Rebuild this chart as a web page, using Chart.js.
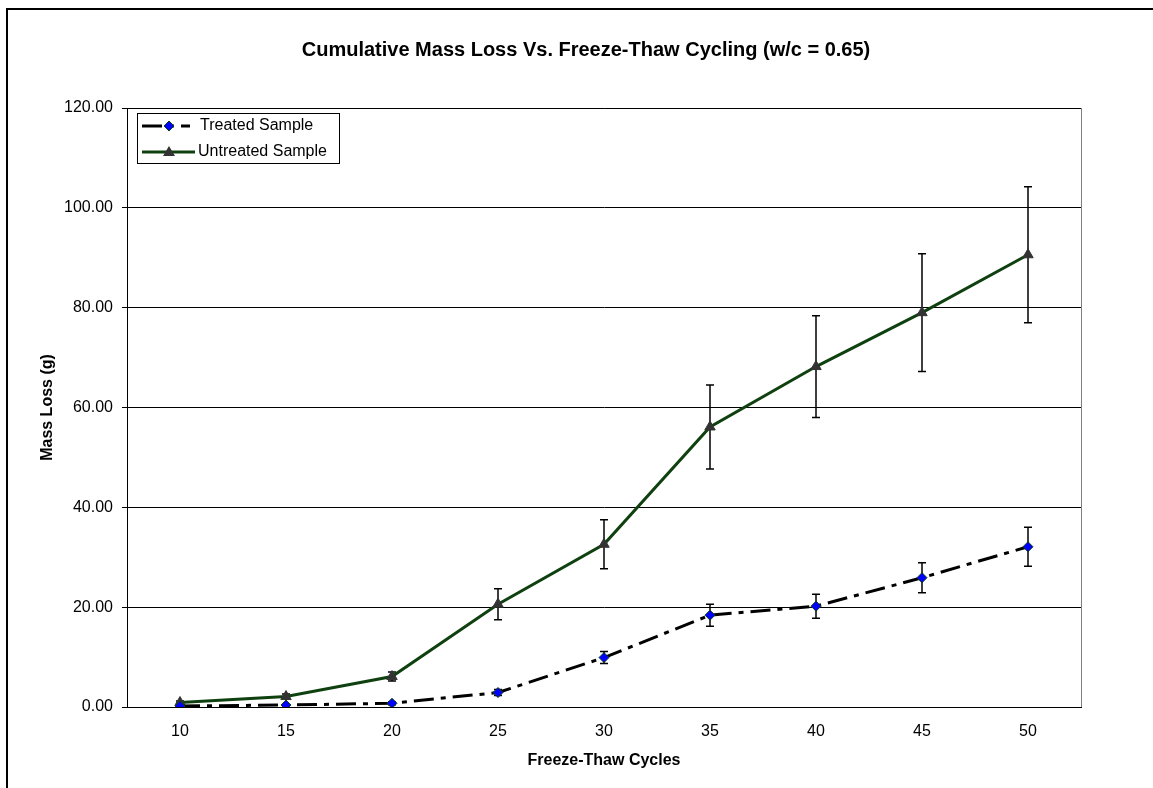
<!DOCTYPE html>
<html>
<head>
<meta charset="utf-8">
<script src="https://cdn.jsdelivr.net/npm/chart.js@4/dist/chart.umd.min.js"></script>
<style>
  html, body { margin: 0; padding: 0; background: #fff; }
  canvas { display: block; }
</style>
</head>
<body>
<canvas id="grafico" width="1153" height="788"></canvas>
<script>
// datos
const ciclos = ["10", "15", "20", "25", "30", "35", "40", "45", "50"];
const tratada = [0.2, 0.4, 0.75, 2.9, 9.9, 18.4, 20.2, 25.9, 32.1];
const tratadaErr = [0.1, 0.2, 0.3, 0.6, 1.2, 2.2, 2.4, 3.0, 3.9];
const sinTratar = [0.9, 2.1, 6.1, 20.6, 32.6, 56.1, 68.2, 79.0, 90.6];
const sinTratarErr = [0.3, 0.5, 0.9, 3.1, 4.9, 8.4, 10.2, 11.8, 13.6];
const etiquetas = ["Treated Sample", "Untreated Sample"];
const titulo = "Cumulative Mass Loss Vs. Freeze-Thaw Cycling (w/c = 0.65)";

const fuente = "'Liberation Sans', Arial, sans-serif";
const verde = "#0f400f";
const guion = [20, 7, 5, 7];

// fondo, marco exterior, marco del área y título
// (el marco original sigue más allá del borde derecho, por eso el título va en x≈586)
const marcos = {
  id: "marcos",
  beforeDraw(chart) {
    const ctx = chart.ctx;
    ctx.save();
    ctx.fillStyle = "#fff";
    ctx.fillRect(0, 0, chart.width, chart.height);
    ctx.strokeStyle = "#000";
    ctx.lineWidth = 2;
    ctx.beginPath();
    ctx.moveTo(7, chart.height);
    ctx.lineTo(7, 9);
    ctx.lineTo(chart.width, 9);
    ctx.stroke();
    const a = chart.chartArea;
    ctx.strokeStyle = "#808080";
    ctx.lineWidth = 1;
    ctx.strokeRect(a.left + 0.5, a.top + 0.5, a.right - a.left, a.bottom - a.top);

    ctx.fillStyle = "#000";
    ctx.font = "bold 20px " + fuente;
    ctx.textAlign = "center";
    ctx.textBaseline = "middle";
    ctx.fillText(titulo, 586, 50);
    ctx.restore();
  }
};

// barras de error
const barrasError = {
  id: "barrasError",
  beforeDatasetsDraw(chart) {
    const ctx = chart.ctx;
    const x = chart.scales.x, y = chart.scales.y;
    const errores = [tratadaErr, sinTratarErr];
    ctx.save();
    ctx.strokeStyle = "#000";
    ctx.lineWidth = 1.5;
    chart.data.datasets.forEach((ds, i) => {
      ds.data.forEach((v, j) => {
        const px = x.getPixelForValue(j);
        const y1 = y.getPixelForValue(v + errores[i][j]);
        const y2 = y.getPixelForValue(Math.max(0, v - errores[i][j]));
        ctx.beginPath();
        ctx.moveTo(px, y1); ctx.lineTo(px, y2);
        ctx.moveTo(px - 4, y1); ctx.lineTo(px + 4, y1);
        ctx.moveTo(px - 4, y2); ctx.lineTo(px + 4, y2);
        ctx.stroke();
      });
    });
    ctx.restore();
  }
};

// leyenda dentro del área
const leyenda = {
  id: "leyenda",
  afterDraw(chart) {
    const ctx = chart.ctx;
    const bx = 137.5, by = 113.5;
    ctx.save();
    ctx.fillStyle = "#fff";
    ctx.fillRect(bx, by, 202, 50);
    ctx.strokeStyle = "#000";
    ctx.lineWidth = 1;
    ctx.strokeRect(bx, by, 202, 50);

    // Treated
    ctx.strokeStyle = "#000";
    ctx.lineWidth = 3;
    ctx.setLineDash(guion);
    ctx.beginPath(); ctx.moveTo(142, 126); ctx.lineTo(190, 126); ctx.stroke();
    ctx.setLineDash([]);
    ctx.fillStyle = "#0000ff";
    ctx.strokeStyle = verde;
    ctx.lineWidth = 1;
    ctx.beginPath();
    ctx.moveTo(169, 121); ctx.lineTo(174, 126); ctx.lineTo(169, 131); ctx.lineTo(164, 126);
    ctx.closePath(); ctx.fill(); ctx.stroke();

    // Untreated
    ctx.strokeStyle = verde;
    ctx.lineWidth = 3;
    ctx.beginPath(); ctx.moveTo(142, 152); ctx.lineTo(195, 152); ctx.stroke();
    ctx.fillStyle = "#333";
    ctx.beginPath();
    ctx.moveTo(169, 146); ctx.lineTo(175, 156); ctx.lineTo(163, 156);
    ctx.closePath(); ctx.fill();

    ctx.fillStyle = "#000";
    ctx.font = "16px " + fuente;
    ctx.textBaseline = "middle";
    ctx.fillText(etiquetas[0], 200, 126);
    ctx.fillText(etiquetas[1], 198, 152);
    ctx.restore();
  }
};

new Chart(document.getElementById("grafico"), {
  type: "line",
  data: {
    labels: ciclos,
    datasets: [
      {
        label: etiquetas[0],
        data: tratada,
        borderColor: "#000",
        borderWidth: 3,
        borderDash: guion,
        backgroundColor: "#0000ff",
        pointStyle: "rectRot",
        pointRadius: 5,
        pointBorderColor: verde,
        pointBorderWidth: 1,
        tension: 0
      },
      {
        label: etiquetas[1],
        data: sinTratar,
        borderColor: verde,
        borderWidth: 3,
        backgroundColor: "#333",
        pointStyle: "triangle",
        pointRadius: 6,
        pointBorderColor: "#333",
        pointBorderWidth: 1,
        tension: 0
      }
    ]
  },
  options: {
    responsive: false,
    animation: false,
    layout: { padding: { left: 0, right: 72, top: 108, bottom: 0 } },
    plugins: {
      legend: { display: false },
      tooltip: { enabled: false },
      title: { display: false }
    },
    scales: {
      x: {
        offset: true,
        afterFit: s => { s.height = 81; },
        grid: { display: false, drawTicks: false },
        border: { display: true, color: "#000", width: 1 },
        ticks: { color: "#000", font: { family: fuente, size: 16 }, padding: 15 },
        title: {
          display: true,
          text: "Freeze-Thaw Cycles",
          color: "#000",
          font: { family: fuente, size: 16, weight: "bold" },
          padding: { top: 0, bottom: 18 }
        }
      },
      y: {
        min: 0,
        max: 120,
        afterFit: s => { s.width = 127; },
        grid: { color: "#000", lineWidth: 1, tickLength: 5, tickColor: "#000" },
        border: { display: true, color: "#000", width: 1 },
        ticks: {
          stepSize: 20,
          color: "#000",
          padding: 9,
          font: { family: fuente, size: 16 },
          callback: v => v.toFixed(2)
        },
        title: {
          display: true,
          text: "Mass Loss (g)",
          color: "#000",
          font: { family: fuente, size: 16, weight: "bold" },
          padding: { top: 38, bottom: 0 }
        }
      }
    }
  },
  plugins: [marcos, barrasError, leyenda]
});
</script>
</body>
</html>
